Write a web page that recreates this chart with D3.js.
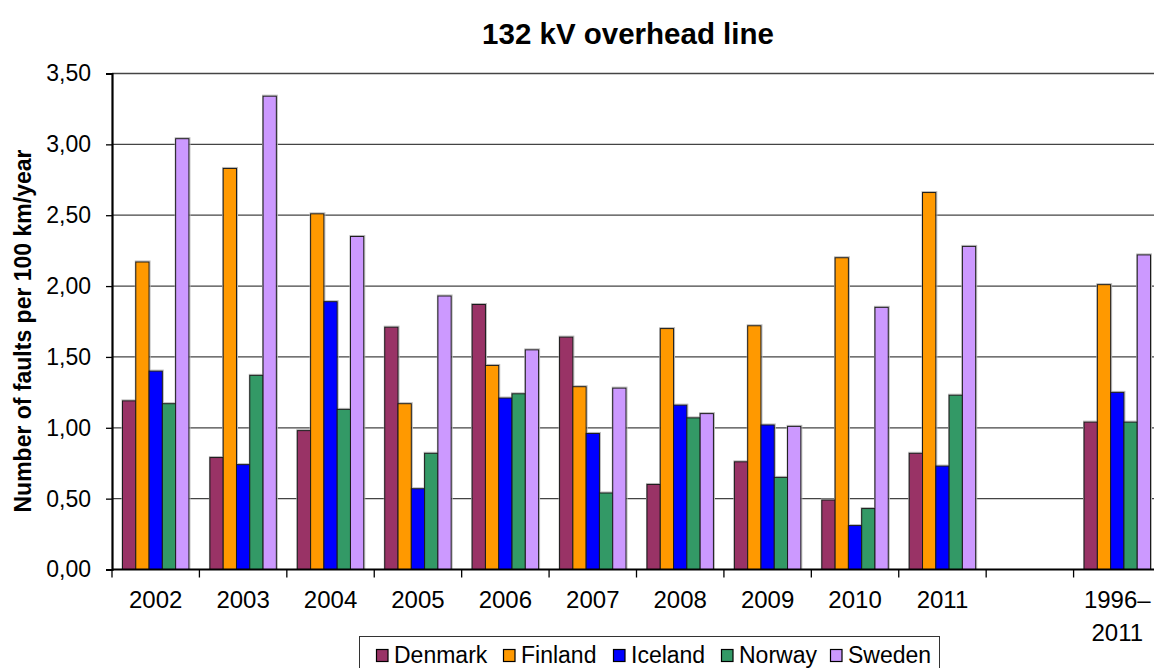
<!DOCTYPE html>
<html>
<head>
<meta charset="utf-8">
<script src="https://cdn.jsdelivr.net/npm/d3@7"></script>
<style>
  html, body { margin: 0; padding: 0; background: #fff; }
  svg { display: block; font-family: "Liberation Sans", Arial, sans-serif; }
</style>
</head>
<body>
<svg id="chart" width="1154" height="668"></svg>
<script>
// ---- Data ----
const categories = ["2002", "2003", "2004", "2005", "2006", "2007", "2008", "2009", "2010", "2011", "", "1996–2011"];
const seriesNames = ["Denmark", "Finland", "Iceland", "Norway", "Sweden"];
const denmark = [1.19, 0.79, 0.98, 1.71, 1.87, 1.64, 0.60, 0.76, 0.49, 0.82, null, 1.04];
const finland = [2.17, 2.83, 2.51, 1.17, 1.44, 1.29, 1.70, 1.72, 2.20, 2.66, null, 2.01];
const iceland = [1.40, 0.74, 1.89, 0.57, 1.21, 0.96, 1.16, 1.02, 0.31, 0.73, null, 1.25];
const norway  = [1.17, 1.37, 1.13, 0.82, 1.24, 0.54, 1.07, 0.65, 0.43, 1.23, null, 1.04];
const sweden  = [3.04, 3.34, 2.35, 1.93, 1.55, 1.28, 1.10, 1.01, 1.85, 2.28, null, 2.22];
const seriesColors = ["#993366", "#FF9900", "#0000FF", "#339966", "#CC99FF"];
const yTicks = [0, 0.5, 1, 1.5, 2, 2.5, 3, 3.5];
const titleText = "132 kV overhead line";
const yAxisTitle = "Number of faults per 100 km/year";

const seriesValues = [denmark, finland, iceland, norway, sweden];

// ---- Layout ----
const svg = d3.select("#chart");
const plot = { left: 112, top: 73.5, right: 1161, bottom: 569.5 };

const x0 = d3.scaleBand().domain(categories).range([plot.left, plot.right]).padding(0);
const x1 = d3.scaleBand().domain(seriesNames)
  .range([x0.bandwidth() * 0.12, x0.bandwidth() * 0.88]).padding(0);
const y = d3.scaleLinear().domain([0, 3.5]).range([plot.bottom, plot.top]);

const fmt = v => d3.format(".2f")(v).replace(".", ",");

// Gridlines
svg.append("g")
  .selectAll("line")
  .data(yTicks.filter(t => t > 0))
  .join("line")
  .attr("x1", plot.left).attr("x2", plot.right)
  .attr("y1", d => y(d)).attr("y2", d => y(d))
  .attr("stroke", "#444").attr("stroke-width", 1.3);

// Bars
const groups = svg.append("g")
  .selectAll("g")
  .data(categories.map((c, i) => ({ c, i })))
  .join("g")
  .attr("transform", d => `translate(${x0(d.c)},0)`);

const barData = d => seriesNames.map((s, k) => ({ s, k, v: seriesValues[k][d.i] })).filter(e => e.v != null);

// soft halo like the reference
groups.selectAll("rect.halo")
  .data(barData)
  .join("rect")
  .attr("class", "halo")
  .attr("x", e => x1(e.s) - 0.5)
  .attr("width", x1.bandwidth() + 1.5)
  .attr("y", e => y(e.v) - 1)
  .attr("height", e => y(0) - y(e.v) + 1)
  .attr("fill", "none")
  .attr("stroke", "#bbb")
  .attr("stroke-width", 1);

groups.selectAll("rect.bar")
  .data(barData)
  .join("rect")
  .attr("class", "bar")
  .attr("x", e => x1(e.s))
  .attr("width", x1.bandwidth())
  .attr("y", e => y(e.v))
  .attr("height", e => y(0) - y(e.v))
  .attr("fill", e => seriesColors[e.k])
  .attr("stroke", "#1a1a1a")
  .attr("stroke-width", 1);

// Y axis
const yAxis = svg.append("g")
  .attr("transform", `translate(${plot.left},0)`)
  .call(d3.axisLeft(y).tickValues(yTicks).tickFormat(fmt).tickSize(6).tickPadding(15));
yAxis.select(".domain").attr("stroke", "#000").attr("stroke-width", 2.2);
yAxis.selectAll(".tick line").attr("stroke", "#000").attr("stroke-width", 1.3);
yAxis.selectAll(".tick text")
  .attr("font-size", 23).attr("fill", "#000")
  .attr("font-family", "'Liberation Sans', Arial, sans-serif");

// X axis
const xAxisG = svg.append("g").attr("transform", `translate(0,${plot.bottom})`);
xAxisG.append("line")
  .attr("x1", plot.left).attr("x2", plot.right)
  .attr("stroke", "#000").attr("stroke-width", 2.2);
xAxisG.selectAll("line.tk")
  .data(categories)
  .join("line")
  .attr("class", "tk")
  .attr("x1", d => x0(d)).attr("x2", d => x0(d))
  .attr("y1", 0).attr("y2", 8)
  .attr("stroke", "#000").attr("stroke-width", 1.3);
const xl = xAxisG.selectAll("text")
  .data(categories)
  .join("text")
  .attr("x", d => x0(d) + x0.bandwidth() / 2)
  .attr("y", 38)
  .attr("text-anchor", "middle")
  .attr("font-size", 24)
  .attr("fill", "#000");
xl.each(function(d) {
  const parts = d.includes("–") ? [d.slice(0, d.indexOf("–") + 1), d.slice(d.indexOf("–") + 1)] : [d];
  d3.select(this).selectAll("tspan")
    .data(parts)
    .join("tspan")
    .attr("x", x0(d) + x0.bandwidth() / 2)
    .attr("dy", (p, i) => i === 0 ? 0 : 33)
    .text(p => p);
});

// Title
svg.append("text")
  .attr("x", 628).attr("y", 44)
  .attr("text-anchor", "middle")
  .attr("font-size", 29.5).attr("font-weight", "bold")
  .text(titleText);

// Y axis title
svg.append("text")
  .attr("transform", "translate(31,331) rotate(-90)")
  .attr("text-anchor", "middle")
  .attr("font-size", 23).attr("font-weight", "bold")
  .text(yAxisTitle);

// Legend
const legend = svg.append("g");
legend.append("rect")
  .attr("x", 359.5).attr("y", 636.5)
  .attr("width", 580).attr("height", 60)
  .attr("fill", "#fff").attr("stroke", "#333").attr("stroke-width", 1);
const legendX = [376, 503, 613, 721, 830];
const li = legend.selectAll("g.li")
  .data(seriesNames)
  .join("g")
  .attr("class", "li")
  .attr("transform", (d, i) => `translate(${legendX[i]},0)`);
li.append("rect")
  .attr("x", 0.5).attr("y", 649.5)
  .attr("width", 11.5).attr("height", 12)
  .attr("fill", (d, i) => seriesColors[i])
  .attr("stroke", "#000").attr("stroke-width", 1.2);
li.append("text")
  .attr("x", 18).attr("y", 663)
  .attr("font-size", 23).attr("fill", "#000")
  .text(d => d);
</script>
</body>
</html>
